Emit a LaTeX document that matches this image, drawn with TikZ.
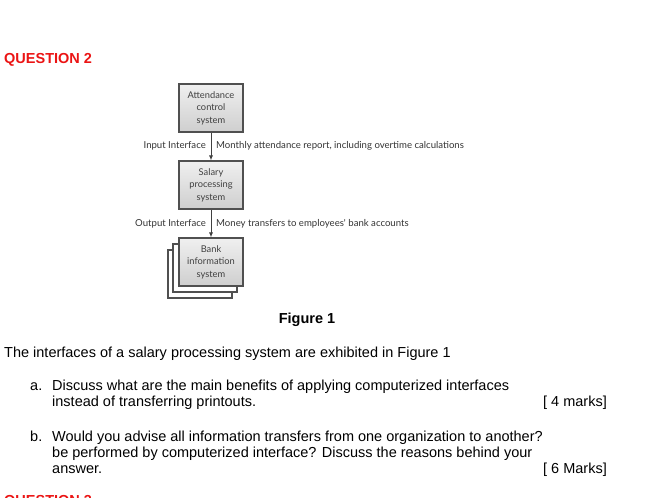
\documentclass[tikz,border=0pt]{standalone}
\usepackage{fontspec}
\setmainfont{Liberation Sans}
\newfontfamily\diagfont{Lato}
\usetikzlibrary{arrows.meta}
\definecolor{qred}{RGB}{235,20,20}
\definecolor{boxedge}{RGB}{80,80,80}
\begin{document}
\begin{tikzpicture}[x=1pt,y=-1pt,
  body/.style={anchor=base west,inner sep=0pt,font=\fontsize{14.5}{16}\selectfont},
  sysbox/.style={draw=boxedge,line width=1.1pt,top color=gray!12,bottom color=gray!38,
    minimum width=64pt,minimum height=48pt,inner sep=0pt,align=center,
    font=\diagfont\fontsize{9.3}{12.5}\selectfont,text=black!75},
  backbox/.style={draw=boxedge,line width=1.1pt,fill=white,minimum width=64pt,minimum height=48pt,inner sep=0pt},
  lbl/.style={inner sep=0pt,font=\diagfont\fontsize{9.6}{10}\selectfont,text=black!80},
  flow/.style={draw=black!75,line width=0.9pt,-{Latex[length=5pt,width=4pt]}}]
\useasboundingbox (0,0) rectangle (657,498);
\begin{scope}
\clip (0,0) rectangle (657,498);
% header
\node[body,text=qred,font=\bfseries\fontsize{14.5}{16}\selectfont] (q2) at (4,63) {QUESTION 2};
% diagram
\node[sysbox] (att) at (211,108) {Attendance\\control\\system};
\node[sysbox] (sal) at (211,185) {Salary\\processing\\system};
\node[backbox] (bk3) at (200,274) {};
\node[backbox] (bk2) at (205,268) {};
\node[sysbox] (bank) at (211,262) {Bank\\information\\system};
\draw[flow] (att) -- (sal);
\draw[flow] (sal) -- (bank);
\node[lbl,anchor=east] (inl) at (206,146) {Input Interface};
\node[lbl,anchor=west] (inr) at (216,146) {Monthly attendance report, including overtime calculations};
\node[lbl,anchor=east] (outl) at (206,224) {Output Interface};
\node[lbl,anchor=west] (outr) at (216,224) {Money transfers to employees' bank accounts};
\node[body,anchor=base,font=\bfseries\fontsize{14.5}{16}\selectfont] (fig) at (307,323) {Figure 1};
% question text
\node[body] (intro) at (4,357) {The interfaces of a salary processing system are exhibited in Figure 1};
\node[body] (ala) at (30,390) {a.};
\node[body] (a1) at (52,390) {Discuss what are the main benefits of applying computerized interfaces};
\node[body] (a2) at (52,406) {instead of transferring printouts.};
\node[body,anchor=base east] (am) at (607,406) {[ 4 marks]};
\node[body] (alb) at (30,441) {b.};
\node[body] (b1) at (52,441) {Would you advise all information transfers from one organization to another?};
\node[body] (b2) at (52,457) {be performed by computerized interface? Discuss the reasons behind your};
\node[body] (b3) at (52,473) {answer.};
\node[body,anchor=base east] (bm) at (607,473) {[ 6 Marks]};
\node[body,text=qred,font=\bfseries\fontsize{14.5}{16}\selectfont] (q3) at (4,505) {QUESTION 3};
\end{scope}
\end{tikzpicture}
\end{document}
